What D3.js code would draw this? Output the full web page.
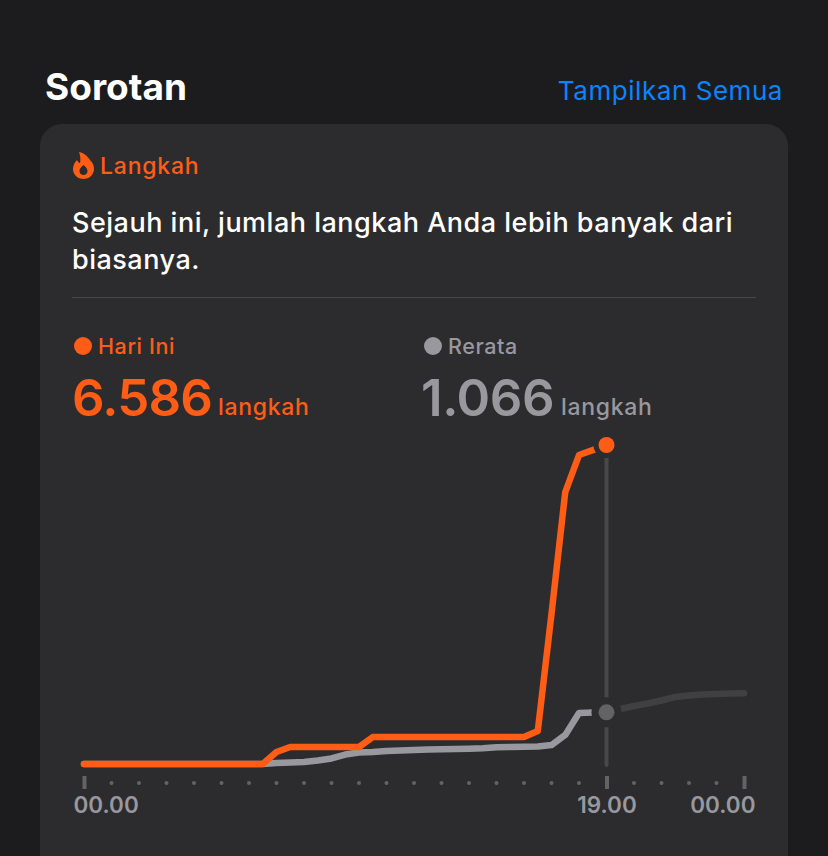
<!DOCTYPE html>
<html><head><meta charset="utf-8">
<script src="https://cdn.jsdelivr.net/npm/d3@7"></script>
<style>html,body{margin:0;padding:0;background:#1c1c1e;overflow:hidden}svg{display:block}text{font-family:Inter,"Noto Sans",sans-serif}</style>
</head><body><svg id="c" width="828" height="856"></svg>
<script>
// half-hour sample positions (hours)
const todayHours = d3.range(0, 19.5, 0.5);
const averageHours = d3.range(0, 24.5, 0.5);
const todaySteps = [0,0,0,0,0,0,0,0,0,0,0,0,0,0,248,351,351,351,351,351,351,557,557,557,557,557,557,557,557,557,557,557,557,681,3100,5615,6379,6480,6586];
const averageSteps = [0,0,0,0,0,0,0,0,0,0,0,0,0,0,20,30,41,72,114,196,237,248,268,279,289,299,305,310,316,324,345,351,355,361,392,599,1053,1063,1066,1136,1198,1249,1311,1384,1415,1435,1446,1456,1460];
const nowHour = 19;
const todayTotal = "6.586", averageTotal = "1.066";
const labelledHours = [0, 19, 24];
const hourLabels = ["00.00", "19.00", "00.00"];
const minorHours = d3.range(0, 25).filter(h => !labelledHours.includes(h));

const ORANGE = "#ff5c16", GRAY = "#98989e", CARD = "#2c2c2e";
const svg = d3.select("#c");
const x = d3.scaleLinear().domain([0, 24]).range([84, 744]);
const y = d3.scaleLinear().domain([0, 6586]).range([764, 445]);

const txt = (t, px, py, size, weight, fill, anchor, ls) => svg.append("text").text(t).attr("x", px).attr("y", py)
  .attr("font-size", size).attr("font-weight", weight).attr("fill", fill).attr("text-anchor", anchor || "start")
  .attr("letter-spacing", ls || 0);

// frame
svg.append("rect").attr("x", 40).attr("y", 124).attr("width", 748).attr("height", 760).attr("rx", 22).attr("fill", CARD);
txt("Sorotan", 45, 100, 37, 700, "#ffffff");
txt("Tampilkan Semua", 783, 100, 26, 400, "#0a84ff", "end", 0.55);

// flame icon
svg.append("path").attr("fill-rule", "evenodd").attr("fill", ORANGE)
  .attr("transform", "translate(73,152)")
  .attr("d", "M6 0C12 1 15 5 17 8C20 11 21 14 21 17C21 23 16 27 10.500 27C5 27 0 23 0 17C0 13 2 10 4 8C5 10 6 11 7 11C8 7 7 3 6 0ZM10.500 13C8 15 6.500 17 6.500 19C6.500 21.500 8.500 23 10.500 23C12.500 23 14.500 21.500 14.500 19C14.500 17 13 15 10.500 13Z");
txt("Langkah", 100, 174, 23, 500, ORANGE, "start", 0.8);

txt("Sejauh ini, jumlah langkah Anda lebih banyak dari", 72, 232, 27, 500, "#ffffff", "start", 0.5);
txt("biasanya.", 72, 269, 27, 500, "#ffffff", "start", 0.5);
svg.append("rect").attr("x", 72).attr("y", 297).attr("width", 684).attr("height", 1).attr("fill", "#48484a");

// legend
svg.append("circle").attr("cx", 83).attr("cy", 346).attr("r", 9).attr("fill", ORANGE);
txt("Hari Ini", 98, 354, 21.500, 500, ORANGE, "start", 0.6);
txt(todayTotal, 72, 416, 51, 600, ORANGE, "start", -0.8);
txt("langkah", 218, 415, 23, 500, ORANGE, "start", 0.7);
svg.append("circle").attr("cx", 433).attr("cy", 346).attr("r", 9).attr("fill", GRAY);
txt("Rerata", 448, 354, 21.500, 500, GRAY, "start", 0.6);
txt(averageTotal, 421, 416, 51, 600, GRAY, "start", -0.4);
txt("langkah", 561, 415, 23, 500, GRAY, "start", 0.7);

// axis
const axis = d3.axisBottom(x).tickValues(labelledHours).tickSize(13).tickPadding(6)
  .tickFormat((d, i) => hourLabels[i]);
const gAxis = svg.append("g").attr("transform", "translate(0,776)").call(axis);
gAxis.select(".domain").remove();
gAxis.selectAll("line").attr("stroke", "#636366").attr("stroke-width", 4);
gAxis.selectAll("text").attr("fill", GRAY).attr("font-size", 22.500).attr("font-weight", 600)
  .attr("font-family", 'Inter,"Noto Sans",sans-serif')
  .attr("dy", "0.8em")
  .attr("text-anchor", (d, i) => i === 0 ? "start" : i === 2 ? "end" : "middle")
  .attr("x", (d, i) => i === 0 ? -11 : i === 2 ? 11 : 0);
svg.append("g").selectAll("circle").data(minorHours).join("circle")
  .attr("cx", d => x(d)).attr("cy", 783).attr("r", 2).attr("fill", "#636366");

// now marker rule
svg.append("line").attr("x1", x(nowHour)).attr("x2", x(nowHour)).attr("y1", y(6586)).attr("y2", 765)
  .attr("stroke", "#48484a").attr("stroke-width", 4).attr("stroke-linecap", "round");

// series
const line = d3.line().x(d => x(d[0])).y(d => y(d[1]));
const avgPts = d3.zip(averageHours, averageSteps);
const todayPts = d3.zip(todayHours, todaySteps);
const stroke = (pts, color) => svg.append("path").attr("d", line(pts)).attr("fill", "none").attr("stroke", color)
  .attr("stroke-width", 6.500).attr("stroke-linejoin", "round").attr("stroke-linecap", "round");
stroke(avgPts.filter(d => d[0] >= nowHour), "#404042");
stroke(avgPts.filter(d => d[0] <= nowHour), GRAY);
stroke(todayPts, ORANGE);

// now dots with halo
const nowAvg = averageSteps[averageHours.indexOf(nowHour)];
const nowToday = todaySteps[todayHours.indexOf(nowHour)];
svg.append("circle").attr("cx", x(nowHour)).attr("cy", y(nowAvg)).attr("r", 15).attr("fill", CARD);
svg.append("circle").attr("cx", x(nowHour)).attr("cy", y(nowToday)).attr("r", 13).attr("fill", CARD);
svg.append("circle").attr("cx", x(nowHour)).attr("cy", y(nowAvg)).attr("r", 8).attr("fill", "#636366");
svg.append("circle").attr("cx", x(nowHour)).attr("cy", y(nowToday)).attr("r", 8).attr("fill", ORANGE);
</script></body></html>
